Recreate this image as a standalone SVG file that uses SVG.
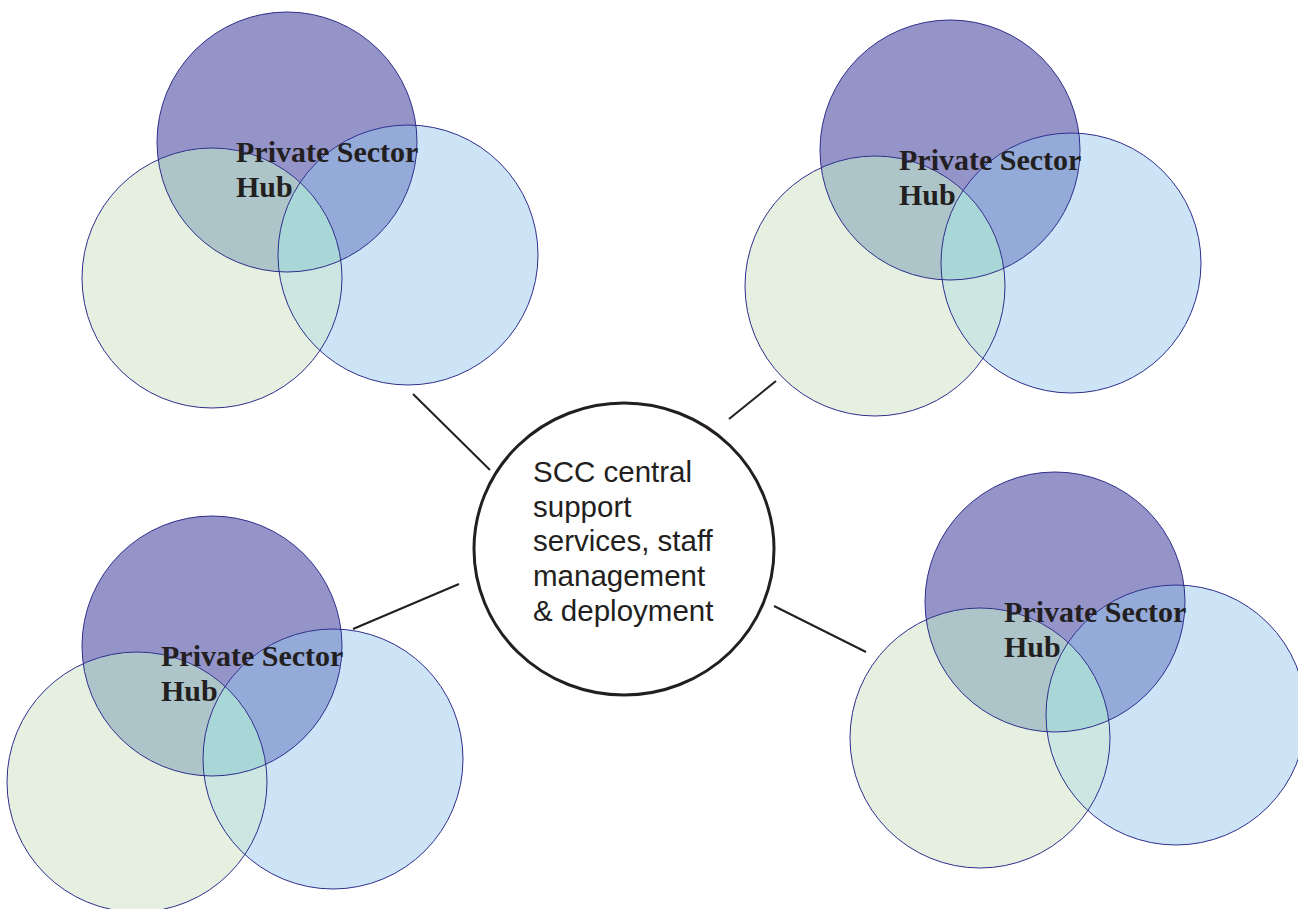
<svg xmlns="http://www.w3.org/2000/svg" xmlns:xlink="http://www.w3.org/1999/xlink" width="1298" height="909" viewBox="0 0 1298 909">
<style>
.ln{stroke:#231f20;stroke-width:2;fill:none}
.edge{fill:none;stroke:#2e2e8c;stroke-width:1}
.hub{font-family:"Liberation Serif","Times New Roman",serif;font-weight:bold;font-size:30px;fill:#231f20}
.ctr{font-family:"Liberation Sans",Arial,sans-serif;font-size:29.5px;fill:#231f20}
</style>
<defs>
<clipPath id="cP"><circle cx="0" cy="0" r="130"/></clipPath>
<clipPath id="cG"><circle cx="-75" cy="136" r="130"/></clipPath>
<g id="cluster">
<circle cx="0" cy="0" r="130" fill="#9494c8"/>
<circle cx="-75" cy="136" r="130" fill="#e6f0e0"/>
<circle cx="121" cy="113" r="130" fill="#cce4f6"/>
<circle cx="-75" cy="136" r="130" fill="#adc5c8" clip-path="url(#cP)"/>
<circle cx="121" cy="113" r="130" fill="#94aad8" clip-path="url(#cP)"/>
<circle cx="121" cy="113" r="130" fill="#cce6e2" clip-path="url(#cG)"/>
<g clip-path="url(#cP)"><circle cx="121" cy="113" r="130" fill="#a9d6d6" clip-path="url(#cG)"/></g>
<circle class="edge" cx="0" cy="0" r="130"/>
<circle class="edge" cx="-75" cy="136" r="130"/>
<circle class="edge" cx="121" cy="113" r="130"/>
</g>
</defs>
<rect width="1298" height="909" fill="#ffffff"/>
<g id="connectors">
<line class="ln" x1="413" y1="394" x2="490" y2="470"/>
<line class="ln" x1="729" y1="419" x2="776" y2="381"/>
<line class="ln" x1="353" y1="629" x2="459" y2="584"/>
<line class="ln" x1="774" y1="606" x2="866" y2="652"/>
</g>
<g id="hub-top-left">
<use xlink:href="#cluster" href="#cluster" x="287" y="142"/>
<text class="hub" x="236" y="162">Private Sector</text>
<text class="hub" x="236" y="197">Hub</text>
</g>
<g id="hub-top-right">
<use xlink:href="#cluster" href="#cluster" x="950" y="150"/>
<text class="hub" x="899" y="170">Private Sector</text>
<text class="hub" x="899" y="205">Hub</text>
</g>
<g id="hub-bottom-left">
<use xlink:href="#cluster" href="#cluster" x="212" y="646"/>
<text class="hub" x="161" y="666">Private Sector</text>
<text class="hub" x="161" y="701">Hub</text>
</g>
<g id="hub-bottom-right">
<use xlink:href="#cluster" href="#cluster" x="1055" y="602"/>
<text class="hub" x="1004" y="622">Private Sector</text>
<text class="hub" x="1004" y="657">Hub</text>
</g>
<g id="central">
<ellipse cx="624" cy="549" rx="150" ry="146" fill="#ffffff" stroke="#231f20" stroke-width="3"/>
<text class="ctr" x="533" y="481.5">SCC central</text>
<text class="ctr" x="533" y="516.5">support</text>
<text class="ctr" x="533" y="551.2">services, staff</text>
<text class="ctr" x="533" y="586">management</text>
<text class="ctr" x="533" y="620.7">&amp; deployment</text>
</g>
</svg>
